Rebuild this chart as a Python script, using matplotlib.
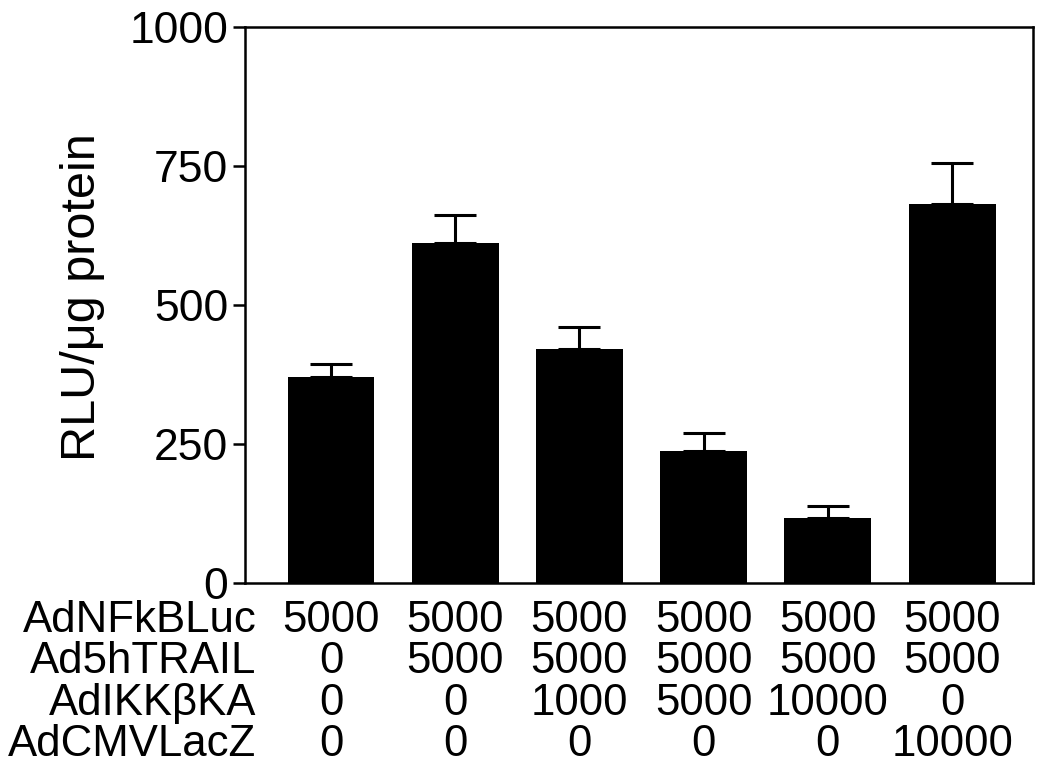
import matplotlib.pyplot as plt
from matplotlib.transforms import blended_transform_factory

plt.rcParams['font.family'] = ['Liberation Sans', 'DejaVu Sans']

# bar values
means = [370, 612, 420, 237, 117, 682]
errors = [23, 50, 40, 32, 22, 73]

# treatment table under the bars
row_labels = ["AdNFkBLuc", "Ad5hTRAIL", "AdIKKβKA", "AdCMVLacZ"]
row_values = [
    ["5000", "5000", "5000", "5000", "5000", "5000"],
    ["0", "5000", "5000", "5000", "5000", "5000"],
    ["0", "0", "1000", "5000", "10000", "0"],
    ["0", "0", "0", "0", "0", "10000"],
]
y_ticks = [0, 250, 500, 750, 1000]

fig = plt.figure(figsize=(10.37, 7.74), dpi=100)
ax = fig.add_axes([0.2363, 0.2468, 0.760, 0.7183])

x = list(range(len(means)))
ax.bar(x, means, width=0.7, color="black", zorder=2)
ax.errorbar(x, means, yerr=[[0] * len(errors), errors], fmt="none",
            ecolor="black", elinewidth=2.2, capsize=15, capthick=2.2, zorder=1)

ax.set_xlim(-0.692, 5.652)
ax.set_ylim(0, 1000)
ax.set_yticks(y_ticks)
ax.set_xticks([])
ax.tick_params(axis="y", direction="out", length=9, width=1.8, labelsize=32, pad=3)
for s in ax.spines.values():
    s.set_linewidth(1.8)

ax.set_ylabel("RLU/μg protein", fontsize=35)
ax.yaxis.set_label_coords(-0.178, 0.514)

trans = blended_transform_factory(ax.transData, ax.transAxes)
row_y = [-0.068, -0.142, -0.216, -0.290]
for lab, vals, yy in zip(row_labels, row_values, row_y):
    ax.text(-0.6, yy, lab, transform=trans, ha="right", va="center",
            fontsize=31.5, clip_on=False)
    for xi, v in zip(x, vals):
        ax.text(xi, yy, v, transform=trans, ha="center", va="center",
                fontsize=31.5, clip_on=False)

fig.savefig("out.png", dpi=100)
